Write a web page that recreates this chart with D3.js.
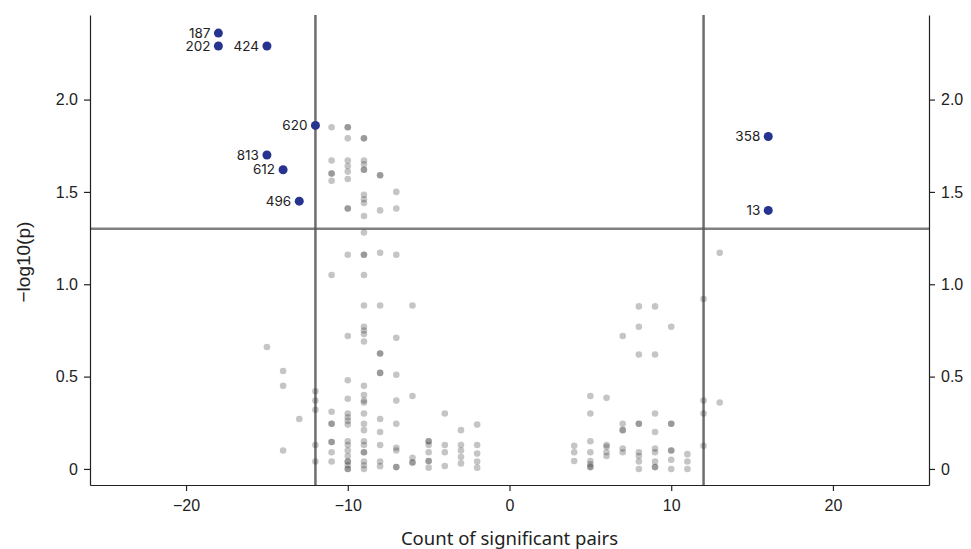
<!DOCTYPE html>
<html lang="en">
<head>
    <meta charset="UTF-8">
    <title>Volcano plot</title>
    <style>
        body { margin: 0; background: #fff; }
        svg text { fill: #222; }
    </style>
</head>
<body>
    <div id="container"></div>
    <script src="https://d3js.org/d3.v7.min.js"></script>
    <script>
        // Highlighted pairs (blue points with labels)
        var hiLabels = ["187", "202", "424", "620", "813", "612", "496", "358", "13"];
        var hiCount = [-18, -18, -15, -12, -15, -14, -13, 16, 16];
        var hiLogP = [2.36, 2.29, 2.29, 1.86, 1.70, 1.62, 1.45, 1.80, 1.40];

        // Grey points, grouped by count column
        var greyCount = [-15, -14, -13, -12, -11, -10, -9, -8, -7, -6, -5, -4, -3, -2, 4, 5, 6, 7, 8, 9, 10, 11, 12, 13];
        var greyLogP = [
            [0.66],
            [0.53, 0.45, 0.10],
            [0.27],
            [0.42, 0.37, 0.32, 0.13, 0.04],
            [1.85, 1.67, 1.60, 1.60, 1.56, 1.05, 0.31, 0.245, 0.245, 0.146, 0.146, 0.09, 0.04],
            [1.85, 1.85, 1.79, 1.67, 1.64, 1.61, 1.57, 1.41, 1.41, 1.16, 0.72, 0.48, 0.38, 0.30, 0.28, 0.26, 0.24, 0.15, 0.13, 0.10, 0.07, 0.04, 0.04, 0.02, 0.0, 0.0],
            [1.79, 1.79, 1.67, 1.65, 1.62, 1.62, 1.485, 1.46, 1.44, 1.37, 1.28, 1.16, 1.16, 1.05, 0.885, 0.77, 0.75, 0.73, 0.69, 0.45, 0.40, 0.37, 0.36, 0.30, 0.245, 0.21, 0.15, 0.13, 0.09, 0.09, 0.04, 0.02, 0.0],
            [1.59, 1.59, 1.40, 1.17, 0.885, 0.625, 0.625, 0.52, 0.52, 0.27, 0.20, 0.13, 0.04, 0.015],
            [1.50, 1.41, 1.16, 0.71, 0.51, 0.37, 0.245, 0.115, 0.10, 0.01, 0.01],
            [0.885, 0.395, 0.06, 0.035, 0.035],
            [0.15, 0.15, 0.13, 0.09, 0.043, 0.043, 0.007],
            [0.30, 0.13, 0.09, 0.016],
            [0.21, 0.13, 0.10, 0.065, 0.03],
            [0.24, 0.13, 0.083, 0.04, 0.007],
            [0.125, 0.09, 0.043],
            [0.395, 0.30, 0.15, 0.09, 0.043, 0.025, 0.01, 0.01],
            [0.385, 0.13, 0.12, 0.09, 0.07],
            [0.72, 0.245, 0.21, 0.21, 0.11, 0.09],
            [0.88, 0.77, 0.62, 0.245, 0.245, 0.09, 0.07, 0.04, 0.0],
            [0.88, 0.62, 0.30, 0.20, 0.11, 0.09, 0.04, 0.01, 0.01],
            [0.77, 0.245, 0.245, 0.10, 0.10, 0.05, 0.0],
            [0.08, 0.04, 0.0],
            [0.92, 0.37, 0.30, 0.125],
            [1.17, 0.36]
        ];

        var xTicks = [-20, -10, 0, 10, 20];
        var yTicks = [0, 0.5, 1.0, 1.5, 2.0];
        var countCut = [-12, 12];
        var pCut = -Math.log10(0.05);

        (function () {
            var width = 971, height = 549;
            var plotLeft = 90, plotRight = 929, plotTop = 15, plotBottom = 485;

            var svg = d3.select("#container").append("svg")
                .attr("width", width)
                .attr("height", height);

            var x = d3.scaleLinear().domain([-25.94, 25.94]).range([plotLeft, plotRight]);
            var y = d3.scaleLinear().domain([-0.087, 2.458]).range([plotBottom, plotTop]);

            // Flatten grey columns into points
            var greyPoints = [];
            greyCount.forEach(function (c, i) {
                greyLogP[i].forEach(function (v) {
                    greyPoints.push({ count: c, logp: v });
                });
            });

            // Threshold lines
            var lines = svg.append("g").attr("class", "cutoffs");
            lines.selectAll("line.v").data(countCut).enter().append("line")
                .attr("class", "v")
                .attr("x1", function (d) { return x(d); })
                .attr("x2", function (d) { return x(d); })
                .attr("y1", plotTop)
                .attr("y2", plotBottom)
                .attr("stroke", "#555")
                .attr("stroke-opacity", 0.85)
                .attr("stroke-width", 2.5);
            lines.append("line")
                .attr("x1", plotLeft).attr("x2", plotRight)
                .attr("y1", y(pCut)).attr("y2", y(pCut))
                .attr("stroke", "#555")
                .attr("stroke-opacity", 0.75)
                .attr("stroke-width", 2.5);

            // Grey points
            svg.append("g").selectAll("circle").data(greyPoints).enter().append("circle")
                .attr("cx", function (d) { return x(d.count); })
                .attr("cy", function (d) { return y(d.logp); })
                .attr("r", 3.3)
                .attr("fill", "#2a2a2a")
                .attr("fill-opacity", 0.27);

            // Highlighted points
            var hi = svg.append("g").selectAll("g").data(hiLabels).enter().append("g");
            hi.append("circle")
                .attr("cx", function (d, i) { return x(hiCount[i]); })
                .attr("cy", function (d, i) { return y(hiLogP[i]); })
                .attr("r", 4.5)
                .attr("fill", "#26348f");
            hi.append("text")
                .attr("x", function (d, i) { return x(hiCount[i]) - 8; })
                .attr("y", function (d, i) { return y(hiLogP[i]); })
                .attr("dy", "0.35em")
                .attr("text-anchor", "end")
                .style("font-family", "Inter, sans-serif")
                .style("font-size", "13.5px")
                .text(function (d) { return d; });

            // Axes
            var fmtY = function (d) { return d === 0 ? "0" : d3.format(".1f")(d); };
            var xAxis = svg.append("g")
                .attr("transform", "translate(0," + plotBottom + ")")
                .call(d3.axisBottom(x).tickValues(xTicks).tickSize(6).tickSizeOuter(0).tickPadding(9)
                    .tickFormat(function (d) { return d < 0 ? "\u2212" + Math.abs(d) : d; }));
            var yLeft = svg.append("g")
                .attr("transform", "translate(" + plotLeft + ",0)")
                .call(d3.axisLeft(y).tickValues(yTicks).tickSize(6).tickSizeOuter(0).tickPadding(6).tickFormat(fmtY));
            var yRight = svg.append("g")
                .attr("transform", "translate(" + plotRight + ",0)")
                .call(d3.axisRight(y).tickValues(yTicks).tickSize(6).tickSizeOuter(0).tickPadding(6).tickFormat(fmtY));

            [xAxis, yLeft, yRight].forEach(function (a) {
                a.select(".domain").attr("stroke", "#222").attr("stroke-width", 1.2);
                a.selectAll(".tick line").attr("stroke", "#222").attr("stroke-width", 1.2);
                a.selectAll(".tick text")
                    .style("font-size", "16px")
                    .style("font-family", "Liberation Sans, Arial, sans-serif")
                    .attr("fill", "#222");
            });

            // Axis titles
            svg.append("text")
                .attr("x", x(0))
                .attr("y", 545)
                .attr("text-anchor", "middle")
                .style("font-family", "Noto Sans, sans-serif")
                .style("font-size", "18.5px")
                .text("Count of significant pairs");
            svg.append("text")
                .attr("transform", "translate(30," + y(1.12) + ") rotate(-90)")
                .attr("text-anchor", "middle")
                .style("font-family", "Liberation Sans, Arial, sans-serif")
                .style("font-size", "19px")
                .text("\u2212log10(p)");
        })();
    </script>
</body>
</html>
